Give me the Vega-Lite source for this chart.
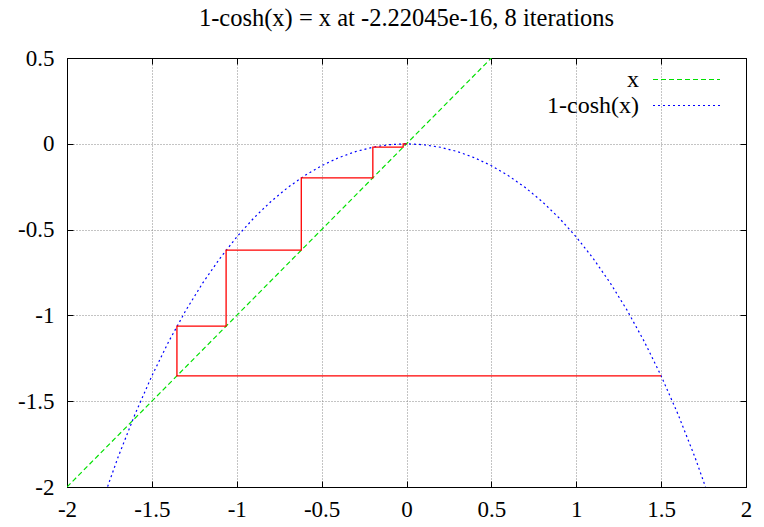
{
  "$schema": "https://vega.github.io/schema/vega-lite/v6.json",
  "width": 679,
  "height": 429,
  "autosize": {"type": "none"},
  "padding": {"left": 67, "top": 58, "right": 18, "bottom": 40},
  "background": "white",
  "title": {
    "text": "1-cosh(x) = x at -2.22045e-16, 8 iterations",
    "font": "'Liberation Serif', 'Times New Roman', Times, serif",
    "fontSize": 24.5,
    "fontWeight": "normal",
    "color": "black",
    "anchor": "middle",
    "offset": 16
  },
  "config": {
    "view": {"stroke": "black", "strokeWidth": 1},
    "axis": {
      "labelFont": "'Liberation Serif', 'Times New Roman', Times, serif",
      "labelFontSize": 23,
      "labelColor": "black",
      "domainColor": "black",
      "tickColor": "black",
      "gridColor": "#888888",
      "gridDash": [1, 2],
      "gridWidth": 1,
      "title": null
    }
  },
  "layer": [
    {
      "data": {
        "values": [
          {"series": "x", "i": 0, "x": -2, "y": -2},
          {"series": "x", "i": 1, "x": 0.5, "y": 0.5},
          {"series": "1-cosh(x)", "i": 0, "x": -1.8, "y": -2.1075},
          {"series": "1-cosh(x)", "i": 1, "x": -1.7, "y": -1.8283},
          {"series": "1-cosh(x)", "i": 2, "x": -1.6, "y": -1.5775},
          {"series": "1-cosh(x)", "i": 3, "x": -1.5, "y": -1.3524},
          {"series": "1-cosh(x)", "i": 4, "x": -1.4, "y": -1.1509},
          {"series": "1-cosh(x)", "i": 5, "x": -1.3, "y": -0.9709},
          {"series": "1-cosh(x)", "i": 6, "x": -1.2, "y": -0.8107},
          {"series": "1-cosh(x)", "i": 7, "x": -1.1, "y": -0.6685},
          {"series": "1-cosh(x)", "i": 8, "x": -1.0, "y": -0.5431},
          {"series": "1-cosh(x)", "i": 9, "x": -0.9, "y": -0.4331},
          {"series": "1-cosh(x)", "i": 10, "x": -0.8, "y": -0.3374},
          {"series": "1-cosh(x)", "i": 11, "x": -0.7, "y": -0.2552},
          {"series": "1-cosh(x)", "i": 12, "x": -0.6, "y": -0.1855},
          {"series": "1-cosh(x)", "i": 13, "x": -0.5, "y": -0.1276},
          {"series": "1-cosh(x)", "i": 14, "x": -0.4, "y": -0.0811},
          {"series": "1-cosh(x)", "i": 15, "x": -0.3, "y": -0.0453},
          {"series": "1-cosh(x)", "i": 16, "x": -0.2, "y": -0.0201},
          {"series": "1-cosh(x)", "i": 17, "x": -0.1, "y": -0.005},
          {"series": "1-cosh(x)", "i": 18, "x": 0, "y": 0},
          {"series": "1-cosh(x)", "i": 19, "x": 0.1, "y": -0.005},
          {"series": "1-cosh(x)", "i": 20, "x": 0.2, "y": -0.0201},
          {"series": "1-cosh(x)", "i": 21, "x": 0.3, "y": -0.0453},
          {"series": "1-cosh(x)", "i": 22, "x": 0.4, "y": -0.0811},
          {"series": "1-cosh(x)", "i": 23, "x": 0.5, "y": -0.1276},
          {"series": "1-cosh(x)", "i": 24, "x": 0.6, "y": -0.1855},
          {"series": "1-cosh(x)", "i": 25, "x": 0.7, "y": -0.2552},
          {"series": "1-cosh(x)", "i": 26, "x": 0.8, "y": -0.3374},
          {"series": "1-cosh(x)", "i": 27, "x": 0.9, "y": -0.4331},
          {"series": "1-cosh(x)", "i": 28, "x": 1.0, "y": -0.5431},
          {"series": "1-cosh(x)", "i": 29, "x": 1.1, "y": -0.6685},
          {"series": "1-cosh(x)", "i": 30, "x": 1.2, "y": -0.8107},
          {"series": "1-cosh(x)", "i": 31, "x": 1.3, "y": -0.9709},
          {"series": "1-cosh(x)", "i": 32, "x": 1.4, "y": -1.1509},
          {"series": "1-cosh(x)", "i": 33, "x": 1.5, "y": -1.3524},
          {"series": "1-cosh(x)", "i": 34, "x": 1.6, "y": -1.5775},
          {"series": "1-cosh(x)", "i": 35, "x": 1.7, "y": -1.8283},
          {"series": "1-cosh(x)", "i": 36, "x": 1.8, "y": -2.1075}
        ]
      },
      "mark": {"type": "line", "clip": true, "strokeWidth": 1.2},
      "encoding": {
        "x": {
          "field": "x", "type": "quantitative",
          "scale": {"domain": [-2, 2], "nice": false, "zero": false},
          "axis": {
            "orient": "bottom",
            "values": [-2, -1.5, -1, -0.5, 0, 0.5, 1, 1.5, 2],
            "labelExpr": "'' + datum.value",
            "grid": true,
            "tickSize": -6,
            "labelPadding": 17,
            "labelFlush": false
          }
        },
        "y": {
          "field": "y", "type": "quantitative",
          "scale": {"domain": [-2, 0.5], "nice": false, "zero": false},
          "axis": {
            "orient": "left",
            "values": [-2, -1.5, -1, -0.5, 0, 0.5],
            "labelExpr": "'' + datum.value",
            "grid": true,
            "tickSize": -6,
            "labelPadding": 19,
            "labelFlush": false
          }
        },
        "order": {"field": "i", "type": "quantitative"},
        "color": {
          "field": "series", "type": "nominal",
          "scale": {"domain": ["x", "1-cosh(x)"], "range": ["#00e000", "#0000ff"]},
          "legend": {
            "title": null,
            "orient": "none",
            "legendX": 606,
            "legendY": 8,
            "symbolType": "M-2.68,0H2.68",
            "symbolSize": 625,
            "symbolStrokeWidth": 1.2,
            "symbolStrokeColor": {"expr": "datum.value == 'x' ? '#00e000' : '#0000ff'"},
            "symbolDash": {"expr": "datum.value == 'x' ? [5, 3] : [2, 3]"},
            "labelAlign": "right",
            "labelOffset": -61,
            "labelFont": "'Liberation Serif', 'Times New Roman', Times, serif",
            "labelFontSize": 24,
            "labelColor": "black",
            "rowPadding": 0
          }
        },
        "strokeDash": {
          "field": "series", "type": "nominal",
          "scale": {"domain": ["x", "1-cosh(x)"], "range": [[5, 3], [2, 3]]},
          "legend": null
        }
      }
    },
    {
      "data": {
        "values": [
          {"i": 0, "x": 1.5, "y": -1.3524},
          {"i": 1, "x": -1.3524, "y": -1.3524},
          {"i": 2, "x": -1.3524, "y": -1.0627},
          {"i": 3, "x": -1.0627, "y": -1.0627},
          {"i": 4, "x": -1.0627, "y": -0.6198},
          {"i": 5, "x": -0.6198, "y": -0.6198},
          {"i": 6, "x": -0.6198, "y": -0.1983},
          {"i": 7, "x": -0.1983, "y": -0.1983},
          {"i": 8, "x": -0.1983, "y": -0.0197},
          {"i": 9, "x": -0.0197, "y": -0.0197},
          {"i": 10, "x": -0.0197, "y": -0.0002},
          {"i": 11, "x": -0.0002, "y": -0.0002},
          {"i": 12, "x": 0, "y": 0}
        ]
      },
      "mark": {"type": "line", "clip": true, "color": "#ff0000", "strokeWidth": 1.3},
      "encoding": {
        "x": {
          "field": "x", "type": "quantitative",
          "axis": {
            "orient": "top",
            "values": [-2, -1.5, -1, -0.5, 0, 0.5, 1, 1.5, 2],
            "labels": false,
            "grid": false,
            "tickSize": -6
          }
        },
        "y": {
          "field": "y", "type": "quantitative",
          "axis": {
            "orient": "right",
            "values": [-2, -1.5, -1, -0.5, 0, 0.5],
            "labels": false,
            "grid": false,
            "tickSize": -6
          }
        },
        "order": {"field": "i", "type": "quantitative"}
      }
    }
  ]
}
